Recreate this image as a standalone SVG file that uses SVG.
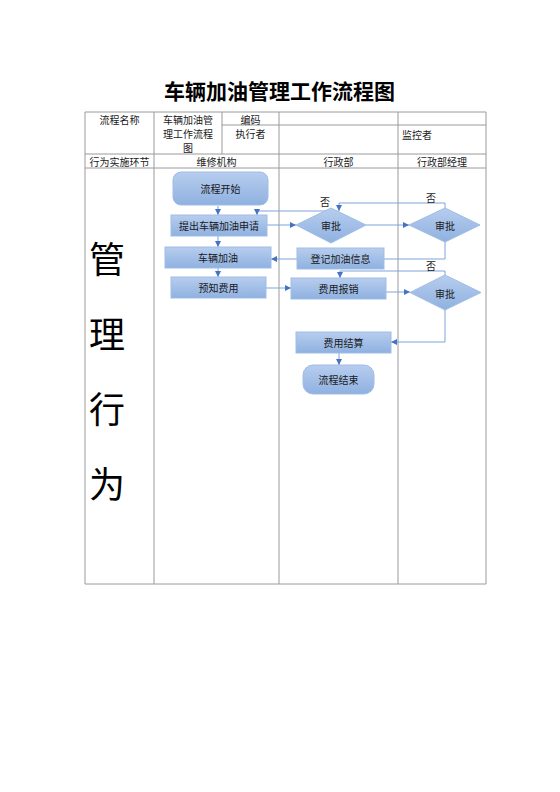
<svg xmlns="http://www.w3.org/2000/svg" width="560" height="792" viewBox="0 0 560 792">
<style>
text{font-family:"Noto Sans CJK SC","Noto Sans",sans-serif;fill:#1a1a1a;}
.t{font-size:10px;text-anchor:middle;dominant-baseline:central;}
.tl{font-size:10px;dominant-baseline:central;}
.big{font-size:36px;text-anchor:middle;dominant-baseline:central;fill:#000;}
.title{font-size:21px;font-weight:700;text-anchor:middle;dominant-baseline:central;fill:#000;}
.grid line{stroke:#9a9a9a;stroke-width:1;}
.box{fill:url(#g);stroke:#9fbde6;stroke-width:1;}
.c{fill:none;stroke:#7fa3dc;stroke-width:1;}
.n{font-size:10px;text-anchor:middle;dominant-baseline:central;fill:#1a1a1a;}
</style>
<defs>
<linearGradient id="g" x1="0" y1="0" x2="0" y2="1">
<stop offset="0" stop-color="#b7cdee"/>
<stop offset="1" stop-color="#8fb1e0"/>
</linearGradient>
<marker id="a" viewBox="0 0 10 10" refX="10" refY="5" markerWidth="6" markerHeight="6" orient="auto" markerUnits="userSpaceOnUse">
<path d="M0,0 L10,5 L0,10 z" fill="#4472c4"/>
</marker>
</defs>
<rect width="560" height="792" fill="#fff"/>
<text class="title" x="279.5" y="90">车辆加油管理工作流程图</text>
<g id="table" class="grid">
<line x1="85" y1="112" x2="486" y2="112"/>
<line x1="222" y1="125" x2="486" y2="125"/>
<line x1="85" y1="154" x2="486" y2="154"/>
<line x1="85" y1="168" x2="486" y2="168"/>
<line x1="85" y1="584" x2="486" y2="584"/>
<line x1="85" y1="112" x2="85" y2="584"/>
<line x1="154" y1="112" x2="154" y2="584"/>
<line x1="222" y1="112" x2="222" y2="154"/>
<line x1="279" y1="112" x2="279" y2="584"/>
<line x1="398" y1="112" x2="398" y2="584"/>
<line x1="486" y1="112" x2="486" y2="584"/>
</g>
<g id="table-text">
<text class="t" x="119.5" y="119">流程名称</text>
<text class="t" x="188" y="119">车辆加油管</text>
<text class="t" x="188" y="133">理工作流程</text>
<text class="t" x="188" y="147">图</text>
<text class="t" x="250.5" y="119">编码</text>
<text class="t" x="250.5" y="133">执行者</text>
<text class="tl" x="402" y="134">监控者</text>
<text class="t" x="119.5" y="161">行为实施环节</text>
<text class="t" x="216.5" y="161">维修机构</text>
<text class="t" x="338.5" y="161">行政部</text>
<text class="t" x="442" y="161">行政部经理</text>
<text class="big" x="107" y="257">管</text>
<text class="big" x="107" y="332">理</text>
<text class="big" x="107" y="407">行</text>
<text class="big" x="107" y="482">为</text>
</g>
<g id="connectors">
<path class="c" d="M218 206 V215" marker-end="url(#a)"/>
<path class="c" d="M218 236 V247" marker-end="url(#a)"/>
<path class="c" d="M218 268 V277" marker-end="url(#a)"/>
<path class="c" d="M267 225 H296" marker-end="url(#a)"/>
<path class="c" d="M327 211 H257 V215" marker-end="url(#a)"/>
<path class="c" d="M366 225 H409" marker-end="url(#a)"/>
<path class="c" d="M445 208 V203 H339 V211" marker-end="url(#a)"/>
<path class="c" d="M445 242 V259 H384"/>
<path class="c" d="M297 259 H271" marker-end="url(#a)"/>
<path class="c" d="M266 288 H291" marker-end="url(#a)"/>
<path class="c" d="M386 292 H410" marker-end="url(#a)"/>
<path class="c" d="M445 275 V271 H340 V278" marker-end="url(#a)"/>
<path class="c" d="M445 310 V342 H391" marker-end="url(#a)"/>
<path class="c" d="M339 353 V365" marker-end="url(#a)"/>
<text class="t" x="325" y="201">否</text>
<text class="t" x="431" y="197">否</text>
<text class="t" x="431" y="265">否</text>
</g>
<g id="start"><rect class="box" x="173" y="172" width="95" height="33" rx="8"/><text class="n" x="220.5" y="188.5">流程开始</text></g>
<g id="apply"><rect class="box" x="171" y="215" width="96" height="21"/><text class="n" x="219" y="225.5">提出车辆加油申请</text></g>
<g id="refuel"><rect class="box" x="165" y="247" width="106" height="21"/><text class="n" x="218" y="257.5">车辆加油</text></g>
<g id="notify"><rect class="box" x="171" y="277" width="95" height="21"/><text class="n" x="218.5" y="287.5">预知费用</text></g>
<g id="approve1"><polygon class="box" points="331,208 366,225 331,243 296,225"/><text class="n" x="331" y="225.5">审批</text></g>
<g id="approve2"><polygon class="box" points="445,208 480,225 445,242 409,225"/><text class="n" x="445" y="225.5">审批</text></g>
<g id="register"><rect class="box" x="297" y="248" width="87" height="21"/><text class="n" x="340.5" y="258.5">登记加油信息</text></g>
<g id="reimburse"><rect class="box" x="291" y="278" width="95" height="21"/><text class="n" x="338.5" y="288.5">费用报销</text></g>
<g id="approve3"><polygon class="box" points="445,275 481,292.5 445,310 410,292.5"/><text class="n" x="445" y="293">审批</text></g>
<g id="settle"><rect class="box" x="296" y="332" width="95" height="21"/><text class="n" x="343.5" y="342.5">费用结算</text></g>
<g id="end"><rect class="box" x="303" y="365" width="71" height="29" rx="10"/><text class="n" x="338.5" y="379.5">流程结束</text></g>
</svg>
